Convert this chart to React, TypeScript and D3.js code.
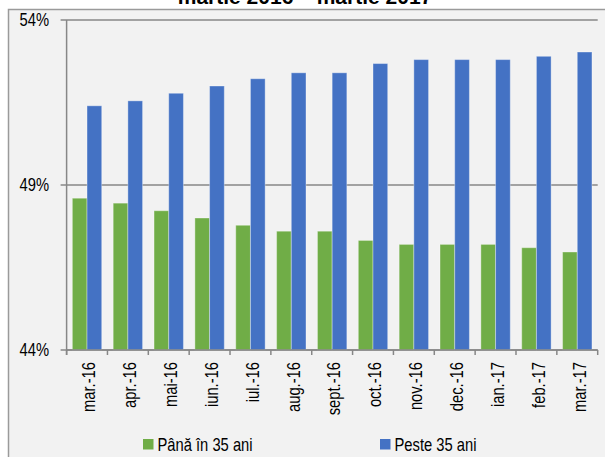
import React from "react";
import { scaleBand, scaleLinear } from "d3";

const months = ["mar.-16", "apr.-16", "mai-16", "iun.-16", "iul.-16", "aug.-16", "sept.-16", "oct.-16", "nov.-16", "dec.-16", "ian.-17", "feb.-17", "mar.-17"];
const pana35 = [48.6, 48.45, 48.22, 48.0, 47.78, 47.6, 47.6, 47.32, 47.2, 47.2, 47.2, 47.1, 46.97];
const peste35 = [51.4, 51.55, 51.78, 52.0, 52.22, 52.4, 52.4, 52.68, 52.8, 52.8, 52.8, 52.9, 53.03];
const seriesNames = ["Până în 35 ani", "Peste 35 ani"];
const seriesColors = ["#70ad47", "#4472c4"];
const yTicks = [44, 49, 54];
const title = "martie 2016 – martie 2017";

const width = 605;
const height = 457;
const font = "'Liberation Sans', Arial, sans-serif";
// no narrow face installed, so squeeze the regular one
const squeeze = 0.82;

const App = () => {
    const x = scaleBand().domain(months).range([66.6, 597.7]).padding(0);
    const inner = scaleBand().domain(seriesNames).range([0, x.bandwidth()]).paddingInner(0).paddingOuter(0.39);
    const y = scaleLinear().domain([44, 54]).range([350, 20]);
    const data = [pana35, peste35];
    const [x0, x1] = x.range();

    return (
        <svg width={width} height={height} style={{ position: "absolute", left: 0, top: 0 }}>
            <rect x={0} y={0} width={width} height={height} fill="#ffffff" />
            {/* chart frame */}
            <rect x={8.5} y={9.5} width={width + 10} height={height + 10} fill="#f2f2f2" stroke="#9a9a9a" strokeWidth={1.5} />
            <text x={305} y={4} textAnchor="middle" fontFamily={font} fontWeight="bold" fontSize={21} fill="#000">{title}</text>

            {/* gridlines + y labels */}
            {yTicks.map((t, i) => (
                <g key={i}>
                    <line x1={x0 - 6} x2={x1} y1={y(t)} y2={y(t)} stroke="#878787" strokeWidth={1.5} />
                    <text transform={`translate(49,${y(t)}) scale(${squeeze},1)`} dy="0.36em" textAnchor="end" fontFamily={font} fontSize={18} fill="#000">{t}%</text>
                </g>
            ))}

            {/* bars */}
            {months.map((m, i) => (
                <g key={m} transform={`translate(${x(m)},0)`}>
                    {data.map((s, j) => (
                        <rect key={j}
                            x={inner(seriesNames[j])}
                            y={y(s[i])}
                            width={inner.bandwidth()}
                            height={y(44) - y(s[i])}
                            fill={seriesColors[j]}
                            stroke="rgba(255,255,255,0.35)"
                            strokeWidth={1} />
                    ))}
                </g>
            ))}

            {/* axes */}
            <line x1={x0} x2={x0} y1={y(54)} y2={y(44) + 5} stroke="#878787" strokeWidth={1.5} />
            <line x1={x0} x2={x1} y1={y(44)} y2={y(44)} stroke="#878787" strokeWidth={1.5} />
            {months.concat([""]).map((m, i) => {
                const px = x0 + i * x.step();
                return <line key={i} x1={px} x2={px} y1={y(44)} y2={y(44) + 5} stroke="#878787" strokeWidth={1.5} />;
            })}
            {months.map((m) => (
                <text key={m}
                    transform={`translate(${x(m)! + x.bandwidth() / 2 + 2},362) rotate(-90) scale(${squeeze},1)`}
                    textAnchor="end" dy="0.35em"
                    fontFamily={font} fontSize={18} fill="#000">{m}</text>
            ))}

            {/* legend */}
            {seriesNames.map((n, j) => {
                const lx = [143, 380][j];
                return (
                    <g key={n}>
                        <rect x={lx} y={439} width={10.5} height={10.5} fill={seriesColors[j]} />
                        <text transform={`translate(${lx + 14.5},451) scale(${squeeze},1)`} fontFamily={font} fontSize={18} fill="#000">{n}</text>
                    </g>
                );
            })}
        </svg>
    );
};

export default App;
